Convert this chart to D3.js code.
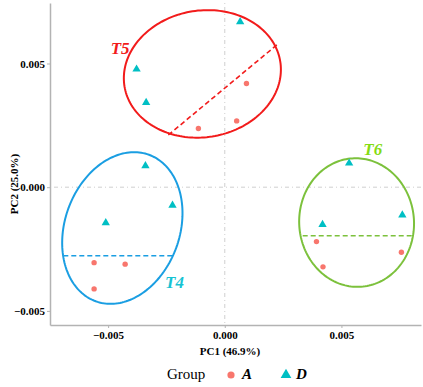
<!DOCTYPE html>
<html>
<head>
<meta charset="utf-8">
<script src="https://cdn.jsdelivr.net/npm/d3@7"></script>
<style>
  html, body { margin: 0; padding: 0; background: #fff; }
  svg { display: block; }
  text { font-family: "Liberation Serif", "Times New Roman", serif; }
</style>
</head>
<body>
<script>
// PCA scores
const groupA = [
    [-0.00113, 0.00237], [0.00093, 0.00419], [0.00051, 0.00268],
    [-0.00560, -0.00305], [-0.00427, -0.00311], [-0.00560, -0.00411],
    [0.00393, -0.00220], [0.00421, -0.00322], [0.00757, -0.00263]
];
const groupD = [
    [-0.00378, 0.00477], [-0.00337, 0.00342], [0.00066, 0.00668],
    [-0.00340, 0.00086], [-0.00510, -0.00144], [-0.00224, -0.00073],
    [0.00533, 0.00097], [0.00419, -0.00151], [0.00761, -0.00113]
];

// cluster ellipses: centre, semi-axes (data units), rotation in degrees
const clusterNames = ["T5", "T4", "T6"];
const clusterCentres = [[-0.00096, 0.00458], [-0.00439, -0.00165], [0.00565, -0.00143]];
const clusterRadii = [[0.00338, 0.00256], [0.00246, 0.00315], [0.00246, 0.00260]];
const clusterAngles = [-9, 20, -4];
const clusterLines = [
    [[-0.00242, 0.00211], [0.00223, 0.00575]],
    [[-0.00692, -0.00277], [-0.00217, -0.00277]],
    [[0.00334, -0.00196], [0.00811, -0.00196]]
];
const clusterLabelPos = [[-0.00489, 0.00538], [-0.00256, -0.00409], [0.00594, 0.00130]];

const xTicks = [-0.005, 0, 0.005];
const yTicks = [-0.005, 0, 0.005];

const width = 423, height = 387;
const margin = { top: 3, right: 2, bottom: 62, left: 50 };

const svg = d3.select("body").append("svg")
    .attr("width", width)
    .attr("height", height);

const x = d3.scaleLinear()
    .domain([-0.00749, 0.00841])
    .range([margin.left, width - margin.right]);
const y = d3.scaleLinear()
    .domain([-0.00557, 0.007445])
    .range([height - margin.bottom, margin.top]);

const ellipseColours = ["#f21b1b", "#1a9ee2", "#7cc13c"];
const labelColours = ["#f21b1b", "#17c3d3", "#85dc12"];
const fmt = d3.format(".3f");

// zero reference lines
svg.append("line")
    .attr("x1", x(0)).attr("x2", x(0))
    .attr("y1", y.range()[1]).attr("y2", y.range()[0])
    .attr("stroke", "#cfcfcf").attr("stroke-width", 1)
    .attr("stroke-dasharray", "1,3,4,3");
svg.append("line")
    .attr("x1", x.range()[0]).attr("x2", x.range()[1])
    .attr("y1", y(0)).attr("y2", y(0))
    .attr("stroke", "#cfcfcf").attr("stroke-width", 1)
    .attr("stroke-dasharray", "1,3,4,3");

// axes
const xAxis = svg.append("g")
    .attr("transform", `translate(0,${y.range()[0]})`)
    .call(d3.axisBottom(x).tickValues(xTicks).tickSize(3).tickSizeOuter(0).tickFormat(fmt));
const yAxis = svg.append("g")
    .attr("transform", `translate(${x.range()[0]},0)`)
    .call(d3.axisLeft(y).tickValues(yTicks).tickSize(3).tickSizeOuter(0).tickFormat(fmt));

[xAxis, yAxis].forEach(g => {
    g.select(".domain").attr("stroke", "#b3b3b3").attr("stroke-width", 1.5);
    g.selectAll(".tick line").attr("stroke", "#b3b3b3");
    g.selectAll(".tick text")
        .attr("fill", "#000")
        .style("font-family", "'Liberation Serif', serif")
        .style("font-weight", "bold")
        .style("font-size", "11px");
});
yAxis.selectAll(".tick text").attr("x", -5);
xAxis.selectAll(".tick text").attr("y", 6);

// axis titles
svg.append("text")
    .attr("x", 230).attr("y", 355)
    .attr("text-anchor", "middle")
    .style("font-weight", "bold").style("font-size", "11px")
    .text("PC1 (46.9%)");
svg.append("text")
    .attr("transform", "translate(18,184) rotate(-90)")
    .attr("text-anchor", "middle")
    .style("font-weight", "bold").style("font-size", "11px")
    .text("PC2 (25.0%)");

// ellipses
const kx = x(1) - x(0), ky = y(0) - y(1);
const ellipse = d3.line().curve(d3.curveLinearClosed);
clusterNames.forEach((name, i) => {
    const cx = x(clusterCentres[i][0]), cy = y(clusterCentres[i][1]);
    const a = clusterRadii[i][0] * kx, b = clusterRadii[i][1] * ky;
    const th = clusterAngles[i] * Math.PI / 180;
    const pts = d3.range(0, 2 * Math.PI, Math.PI / 90).map(t => {
        const ex = a * Math.cos(t), ey = b * Math.sin(t);
        return [cx + ex * Math.cos(th) - ey * Math.sin(th),
                cy + ex * Math.sin(th) + ey * Math.cos(th)];
    });
    svg.append("path")
        .attr("d", ellipse(pts))
        .attr("fill", "none")
        .attr("stroke", ellipseColours[i])
        .attr("stroke-width", 2);

    const ln = clusterLines[i];
    svg.append("line")
        .attr("x1", x(ln[0][0])).attr("y1", y(ln[0][1]))
        .attr("x2", x(ln[1][0])).attr("y2", y(ln[1][1]))
        .attr("stroke", ellipseColours[i])
        .attr("stroke-width", 1.6)
        .attr("stroke-dasharray", "5,3");

    svg.append("text")
        .attr("x", x(clusterLabelPos[i][0]))
        .attr("y", y(clusterLabelPos[i][1]))
        .attr("fill", labelColours[i])
        .style("font-weight", "bold").style("font-style", "italic")
        .style("font-size", "17px")
        .text(name);
});

// points
const tri = d3.symbol().type(d3.symbolTriangle).size(30);
svg.append("g").selectAll("circle")
    .data(groupA)
    .enter()
    .append("circle")
    .attr("cx", d => x(d[0]))
    .attr("cy", d => y(d[1]))
    .attr("r", 2.7)
    .attr("fill", "#F8766D");
svg.append("g").selectAll("path")
    .data(groupD)
    .enter()
    .append("path")
    .attr("d", tri)
    .attr("transform", d => `translate(${x(d[0])},${y(d[1])})`)
    .attr("fill", "#00BFC4");

// legend
const legend = svg.append("g");
legend.append("text")
    .attr("x", 167).attr("y", 379)
    .style("font-size", "15px")
    .text("Group");
legend.append("circle")
    .attr("cx", 231).attr("cy", 375).attr("r", 3.6)
    .attr("fill", "#F8766D");
legend.append("text")
    .attr("x", 242).attr("y", 379)
    .style("font-size", "15px").style("font-weight", "bold").style("font-style", "italic")
    .text("A");
legend.append("path")
    .attr("d", d3.symbol().type(d3.symbolTriangle).size(50)())
    .attr("transform", "translate(286,375)")
    .attr("fill", "#00BFC4");
legend.append("text")
    .attr("x", 296).attr("y", 379)
    .style("font-size", "15px").style("font-weight", "bold").style("font-style", "italic")
    .text("D");
</script>
</body>
</html>
